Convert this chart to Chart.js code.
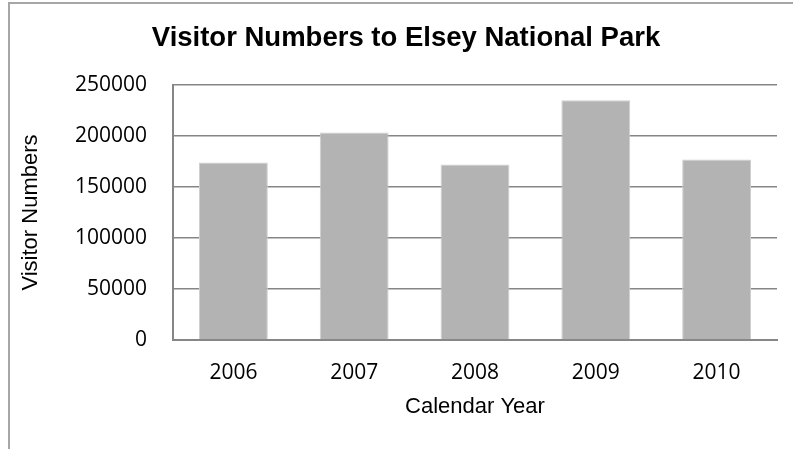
<!DOCTYPE html>
<html lang="en">
<head>
    <meta charset="UTF-8">
    <title>Visitor Numbers to Elsey National Park</title>
    <script src="https://cdn.jsdelivr.net/npm/chart.js"></script>
    <style>
        html, body { margin: 0; padding: 0; background: #fff; overflow: hidden; }
        #frame {
            position: absolute; left: 8px; top: 2px;
            width: 800px; height: 460px;
            border-top: 2px solid #a6a6a6; border-left: 2px solid #a6a6a6;
        }
        #wrap { position: absolute; left: 0; top: 0; width: 792px; height: 445px; }
    </style>
</head>
<body>
    <div id="frame">
        <div id="wrap"><canvas id="visitorChart"></canvas></div>
    </div>
    <script>
        // data
        const years = ['2006', '2007', '2008', '2009', '2010'];
        const visitors = [174000, 203500, 172000, 235000, 177000];
        const yTicks = [0, 50000, 100000, 150000, 200000, 250000];

        const gridGrey = '#868686';

        const ctx = document.getElementById('visitorChart').getContext('2d');
        new Chart(ctx, {
            type: 'bar',
            data: {
                labels: years,
                datasets: [{
                    label: 'Visitor Numbers',
                    data: visitors,
                    backgroundColor: '#b3b3b3',
                    borderColor: '#cfcfcf',
                    borderWidth: 1,
                    categoryPercentage: 1.0,
                    barPercentage: 0.57
                }]
            },
            options: {
                responsive: true,
                maintainAspectRatio: false,
                animation: false,
                // left padding keeps the title centred on the whole frame
                layout: { padding: { top: 0, right: 25, bottom: 0, left: 25 } },
                plugins: {
                    legend: { display: false },
                    tooltip: { enabled: false },
                    title: {
                        display: true,
                        text: 'Visitor Numbers to Elsey National Park',
                        color: '#000',
                        font: { family: '"Liberation Sans", Arial, sans-serif', size: 27.5, weight: 'bold' },
                        padding: { top: 18, bottom: 30 }
                    }
                },
                scales: {
                    x: {
                        grid: { display: false, drawTicks: false },
                        border: { display: true, color: gridGrey, width: 2 },
                        ticks: {
                            color: '#000',
                            padding: 20,
                            font: { family: '"Open Sans", sans-serif', size: 21 }
                        },
                        title: {
                            display: true,
                            text: 'Calendar Year',
                            color: '#000',
                            font: { family: '"Liberation Sans", Arial, sans-serif', size: 22 },
                            padding: { top: 0, bottom: 29 }
                        },
                        afterFit: function(scale) { scale.height = 109; }
                    },
                    y: {
                        min: 0,
                        max: 250000,
                        afterBuildTicks: function(scale) {
                            scale.ticks = yTicks.map(v => ({ value: v }));
                        },
                        grid: { color: gridGrey, lineWidth: 1.5, drawTicks: false },
                        border: { display: true, color: gridGrey, width: 2 },
                        ticks: {
                            color: '#000',
                            padding: 26,
                            font: { family: '"Open Sans", sans-serif', size: 21 },
                            callback: function(value) { return String(value); }
                        },
                        title: {
                            display: true,
                            text: 'Visitor Numbers',
                            color: '#000',
                            font: { family: '"Liberation Sans", Arial, sans-serif', size: 22 },
                            padding: { top: -17, bottom: 0 }
                        },
                        afterFit: function(scale) { scale.width = 138; }
                    }
                }
            }
        });
    </script>
</body>
</html>
